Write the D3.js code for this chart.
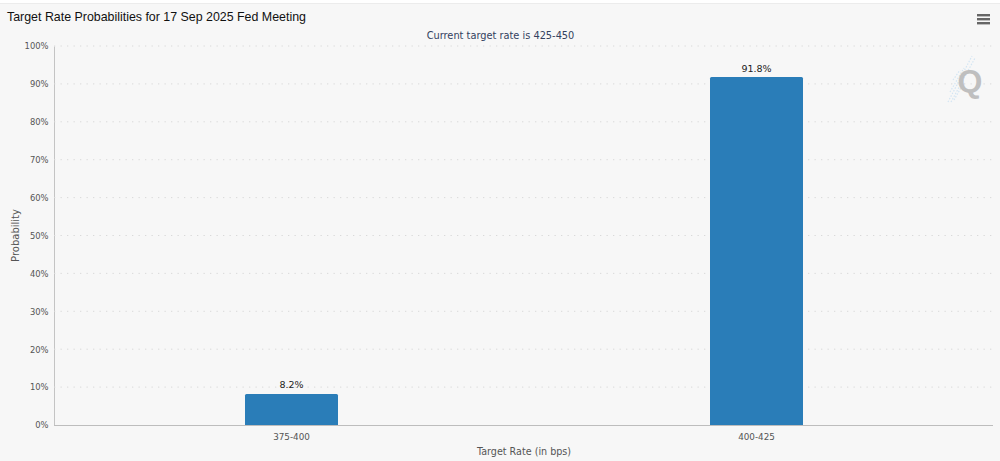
<!DOCTYPE html>
<html><head><meta charset="utf-8">
<script src="https://cdn.jsdelivr.net/npm/d3@7"></script>
<style>
html,body{margin:0;padding:0;background:#fff;overflow:hidden}
svg{display:block}
</style></head><body><svg id="c" width="1000" height="461"></svg>
<script>
const categories = ["375-400","400-425"];
const probabilities = [8.2,91.8];
const valueLabels = ["8.2%","91.8%"];
const yTicks = [0,10,20,30,40,50,60,70,80,90,100];
const titleText = "Target Rate Probabilities for 17 Sep 2025 Fed Meeting";
const subtitleText = "Current target rate is 425-450";
const xTitle = "Target Rate (in bps)";
const yTitle = "Probability";

const svg = d3.select("#c");
const sans = "'Liberation Sans',Arial,sans-serif";
const dv = "'DejaVu Sans',sans-serif";
const plotL=54,plotR=993,plotT=46,plotB=425;

svg.append("rect").attr("width",1000).attr("height",461).attr("fill","#fff");
svg.append("rect").attr("y",4).attr("width",1000).attr("height",457).attr("fill","#f7f7f7");
svg.append("line").attr("x1",0).attr("x2",1000).attr("y1",3.5).attr("y2",3.5).attr("stroke","#ececec");

const y = d3.scaleLinear().domain([0,100]).range([plotB,plotT]);
const x = d3.scaleBand().domain(categories).range([59,989]).paddingInner(0.8).paddingOuter(0.4);

const gy = svg.append("g").attr("transform",`translate(${plotL},0)`)
  .call(d3.axisLeft(y).tickValues(yTicks).tickFormat(d=>d+"%").tickSize(0).tickPadding(5.5));
gy.select(".domain").attr("stroke","#c4c4c4").attr("stroke-width",1);
gy.selectAll("text").attr("font-family",dv).attr("font-size",8.4).attr("fill","#555").attr("dy","0.62em").attr("y",-2.4);

svg.append("g").selectAll("line").data(yTicks.filter(d=>d>0)).join("line")
  .attr("x1",plotL).attr("x2",plotR).attr("y1",d=>y(d)).attr("y2",d=>y(d))
  .attr("stroke","#d9d9d9").attr("stroke-width",1).attr("stroke-dasharray","1.3,5.2");

svg.append("g").selectAll("path").data(categories).join("path")
  .attr("d",(c,i)=>{
    const a=x(c),w=x.bandwidth(),t=y(probabilities[i]),r=1.5;
    return `M${a},${plotB}V${t+r}Q${a},${t} ${a+r},${t}H${a+w-r}Q${a+w},${t} ${a+w},${t+r}V${plotB}Z`;
  }).attr("fill","#2a7db8");

const gx = svg.append("g").attr("transform",`translate(0,${plotB})`)
  .call(d3.axisBottom(x).tickSize(0).tickPadding(9));
gx.select(".domain").remove();
svg.append("line").attr("x1",plotL).attr("x2",plotR).attr("y1",plotB+.5).attr("y2",plotB+.5).attr("stroke","#bdbdbd");
gx.selectAll("text").attr("font-family",dv).attr("font-size",8.8).attr("fill","#555");

svg.append("g").selectAll("text").data(categories).join("text")
  .attr("x",c=>x(c)+x.bandwidth()/2)
  .attr("y",(c,i)=>y(probabilities[i])-5.5)
  .attr("text-anchor","middle").attr("font-family",dv).attr("font-size",9.5).attr("fill","#222")
  .text((c,i)=>valueLabels[i]);

svg.append("text").attr("x",7).attr("y",21).attr("font-family",sans).attr("font-size",12.4).attr("fill","#111").text(titleText);
svg.append("text").attr("x",500.5).attr("y",39).attr("text-anchor","middle").attr("font-family",dv).attr("font-size",9.8).attr("fill","#33415e").text(subtitleText);
svg.append("text").attr("x",524).attr("y",455).attr("text-anchor","middle").attr("font-family",dv).attr("font-size",9.6).attr("fill","#555").text(xTitle);
svg.append("text").attr("transform","translate(19,235.5) rotate(-90)").attr("text-anchor","middle").attr("font-family",dv).attr("font-size",10).attr("fill","#555").text(yTitle);

const menu = svg.append("g").attr("fill","#666");
[14,18,22].forEach(t=>menu.append("rect").attr("x",977).attr("y",t).attr("width",13).attr("height",2.4));

const wm = svg.append("g").attr("stroke","#d3e5f3").attr("stroke-width",1.2).attr("stroke-dasharray","1.5,1.5");
[[948,102,972,56],[951,102,975,58],[954,100,962,86],[950,92,964,68],[953,80,960,70]].forEach(l=>wm.append("line").attr("x1",l[0]).attr("y1",l[1]).attr("x2",l[2]).attr("y2",l[3]));
svg.append("text").attr("x",970).attr("y",92).attr("text-anchor","middle").attr("font-family",sans).attr("font-weight","bold").attr("font-size",32).attr("fill","#bfbfbf").text("Q");
</script></body></html>
